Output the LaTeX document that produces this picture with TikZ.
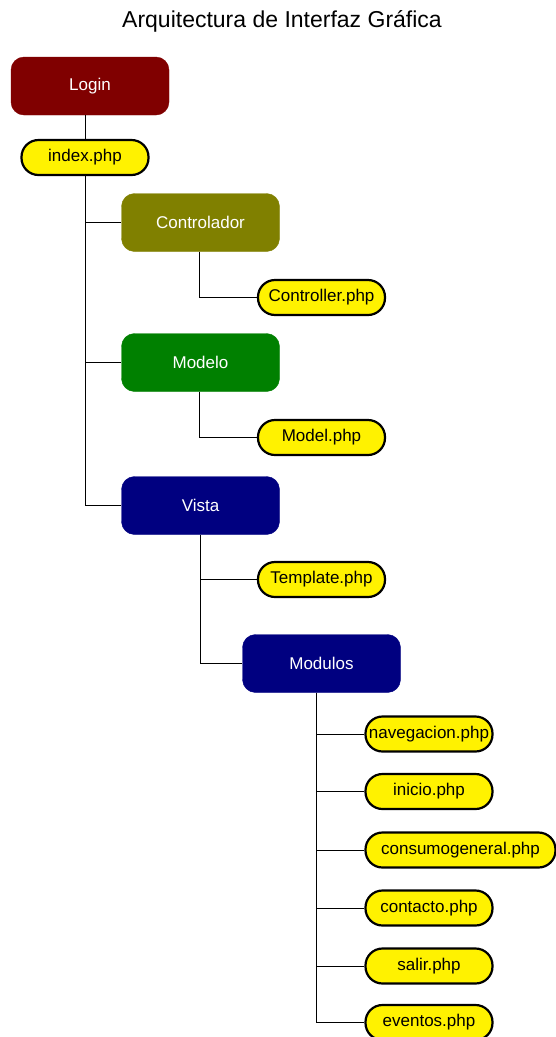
\documentclass[tikz,border=0pt]{standalone}
\usepackage{fontspec}
\setmainfont{Liberation Sans}
\definecolor{loginred}{RGB}{128,0,0}
\definecolor{ctrlolive}{RGB}{128,128,0}
\definecolor{modelgreen}{RGB}{0,128,0}
\definecolor{viewnavy}{RGB}{0,0,128}
\begin{document}
\begin{tikzpicture}[x=1pt,y=-1pt,
  box/.style={draw=#1,fill=#1,rounded corners=13pt,minimum width=158pt,minimum height=58pt,
    text=white,font=\fontsize{17}{19}\selectfont,inner sep=0pt},
  file/.style={draw=black,line width=2.2pt,fill=yellow,rounded corners=17pt,minimum width=127pt,
    minimum height=35pt,font=\fontsize{17}{19}\selectfont,inner sep=0pt},
  link/.style={line width=0.9pt,draw=black}]
\useasboundingbox (0,0) rectangle (556,1037);
\node[font=\fontsize{23}{26}\selectfont] (title) at (282,21) {Arquitectura de Interfaz Gráfica};
% main chain
\node[box=loginred] (login) at (90,86) {Login};
\node[file] (index) at (85,157.5) {index.php};
\node[box=ctrlolive] (ctrl) at (200.5,222.5) {Controlador};
\node[file] (ctrlphp) at (321.5,297.5) {Controller.php};
\node[box=modelgreen] (modelo) at (200.5,362.5) {Modelo};
\node[file] (modelphp) at (321.5,437.5) {Model.php};
\node[box=viewnavy] (vista) at (200.5,505.5) {Vista};
\node[file] (template) at (321.5,579.5) {Template.php};
\node[box=viewnavy] (modulos) at (321.5,663.5) {Modulos};
% module files
\node[file] (nav) at (429,734) {navegacion.php};
\node[file] (inicio) at (429,791.5) {inicio.php};
\node[file,minimum width=190pt] (consumo) at (460.5,850) {consumogeneral.php};
\node[file] (contacto) at (429,908) {contacto.php};
\node[file] (salir) at (429,966) {salir.php};
\node[file] (eventos) at (429,1022.5) {eventos.php};
% connectors
\draw[link] (index.north) -- (index.north |- login.south);
\draw[link] (index.south) |- (vista.west);
\draw[link] (index.south |- ctrl.west) -- (ctrl.west);
\draw[link] (index.south |- modelo.west) -- (modelo.west);
\draw[link] ([xshift=-1.5pt]ctrl.south) |- (ctrlphp.west);
\draw[link] ([xshift=-1.5pt]modelo.south) |- (modelphp.west);
\draw[link] (vista.south) |- (modulos.west);
\draw[link] (vista.south |- template.west) -- (template.west);
\coordinate (mbus) at ([xshift=-5.5pt]modulos.south);
\draw[link] (mbus) |- (eventos.west);
\foreach \f in {nav,inicio,consumo,contacto,salir}
  \draw[link] (mbus |- \f.west) -- (\f.west);
\end{tikzpicture}
\end{document}
